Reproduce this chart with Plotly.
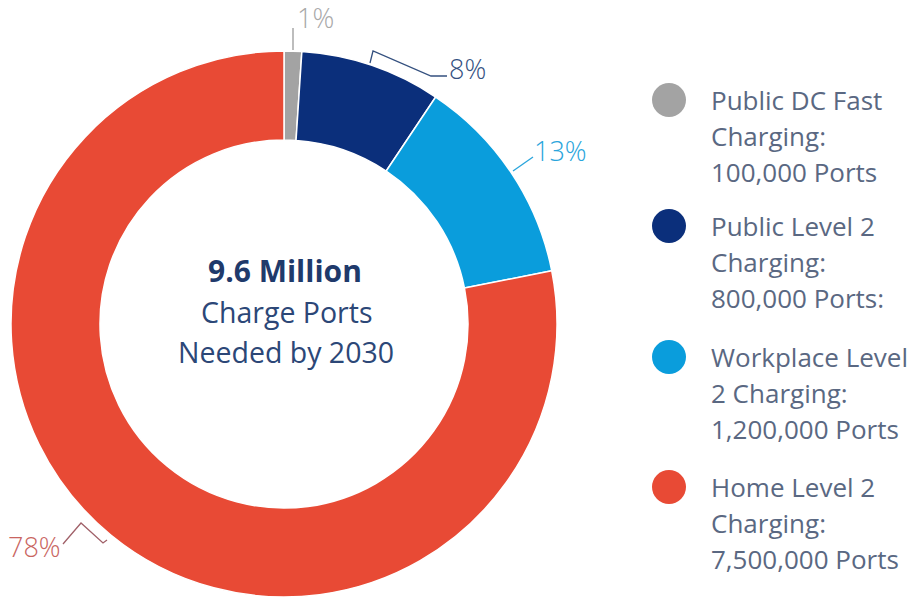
import plotly.graph_objects as go

# Charge-port categories and counts
categories = [
    "Public DC Fast<br>Charging:",
    "Public Level 2<br>Charging:",
    "Workplace Level<br>2 Charging:",
    "Home Level 2<br>Charging:",
]
ports = [100_000, 800_000, 1_200_000, 7_500_000]
port_suffix = ["", ":", "", ""]
colors = ["#a3a3a3", "#0b2f7b", "#0a9ddc", "#e84a35"]
pct_colors = ["#a8a8a8", "#34507f", "#2aa5dc", "#c9655f"]

center_title = "9.6 Million"
center_lines = ["Charge Ports", "Needed by 2030"]

W, H = 922, 599
FONT = "Open Sans"


def px(x):
    return x / W


def py(y):
    return 1 - y / H


total = sum(ports)
pct = [int(v / total * 100 + 0.5) for v in ports]

# donut geometry (pixels)
cx, cy, R = 284, 324, 273

fig = go.Figure(
    go.Pie(
        labels=[c.replace("<br>", " ") for c in categories],
        values=ports,
        sort=False,
        direction="clockwise",
        rotation=0,
        hole=0.674,
        marker=dict(colors=colors, line=dict(color="white", width=1.5)),
        textinfo="none",
        hoverinfo="label+value+percent",
        showlegend=False,
        domain=dict(x=[px(cx - R), px(cx + R)], y=[py(cy + R), py(cy - R)]),
    )
)

annotations = []
shapes = []


def label(x, y, text, size, color, anchor="left", weight="normal"):
    annotations.append(dict(
        x=px(x), y=py(y), xref="paper", yref="paper", showarrow=False,
        xanchor=anchor, yanchor="middle", text=text,
        font=dict(family=FONT, size=size, color=color, weight=weight),
    ))


# centre text
label(cx + 1, 270, f"<b>{center_title}</b>", 30, "#1f3a6b", "center")
for i, line in enumerate(center_lines):
    label(cx + 2, 312 + 40 * i, line, 28.5, "#2c4777", "center")

# percentage labels with leader lines
pct_pos = [(295, 17, "left"), (447, 68, "left"), (532, 150, "left"), (63, 546, "right")]
leaders = [
    [(293, 28), (293, 50)],
    [(370, 63), (373, 51), (431, 76), (447, 76)],
    [(513, 171), (533, 157)],
    [(63, 544), (81, 523), (103, 543), (107, 540)],
]
leader_colors = ["#9a9a9a", "#34507f", "#2aa5dc", "#a06068"]
for i in range(4):
    x, y, anchor = pct_pos[i]
    label(x, y, f"{pct[i]}%", 27, pct_colors[i], anchor, weight=300)
    pts = leaders[i]
    path = "M " + " L ".join(f"{px(a)},{py(b)}" for a, b in pts)
    shapes.append(dict(type="path", xref="paper", yref="paper", path=path,
                       line=dict(color=leader_colors[i], width=1.3)))

# legend: markers and three-line labels
leg_y = [100, 226, 357, 487]
for i in range(4):
    y0 = leg_y[i]
    r = 17
    shapes.append(dict(type="circle", xref="paper", yref="paper",
                       x0=px(669 - r), x1=px(669 + r), y0=py(y0 + r), y1=py(y0 - r),
                       fillcolor=colors[i], line=dict(width=0)))
    lines = categories[i].split("<br>") + [f"{ports[i]:,} Ports{port_suffix[i]}"]
    for j, t in enumerate(lines):
        label(709, y0 + 36 * j, t, 26, "#5a6882")

fig.update_layout(
    width=W, height=H,
    margin=dict(l=0, r=0, t=0, b=0),
    paper_bgcolor="white", plot_bgcolor="white",
    annotations=annotations, shapes=shapes,
)

fig.write_html("out.html")
